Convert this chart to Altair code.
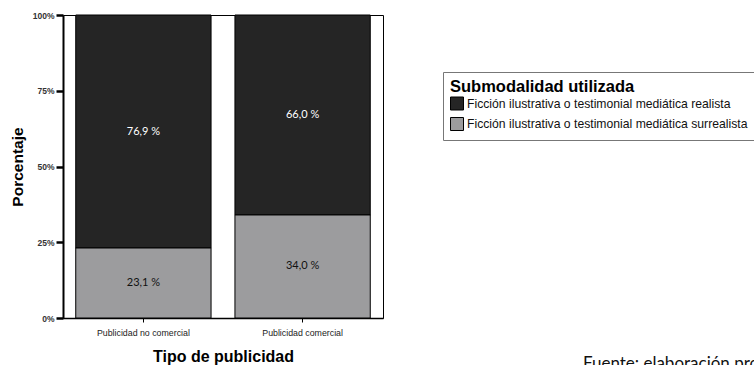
import altair as alt
import pandas as pd

tipos = ["Publicidad no comercial", "Publicidad no comercial", "Publicidad comercial", "Publicidad comercial"]
submodalidad = [
    "Ficción ilustrativa o testimonial mediática realista",
    "Ficción ilustrativa o testimonial mediática surrealista",
    "Ficción ilustrativa o testimonial mediática realista",
    "Ficción ilustrativa o testimonial mediática surrealista",
]
valores = [76.9, 23.1, 66.0, 34.0]
orden = [2, 1, 2, 1]
etiquetas = ["76,9 %", "23,1 %", "66,0 %", "34,0 %"]
x_order = ["Publicidad no comercial", "Publicidad comercial"]
leg_order = [
    "Ficción ilustrativa o testimonial mediática realista",
    "Ficción ilustrativa o testimonial mediática surrealista",
]
colores = ["#252525", "#9c9c9e"]
texto_colores = ["#ffffff", "#111111"]

df = pd.DataFrame({
    "tipo": tipos, "sub": submodalidad, "valor": valores,
    "orden": orden, "etiqueta": etiquetas,
})

base = alt.Chart(df).transform_stack(
    stack="valor", groupby=["tipo"], as_=["y0", "y1"],
    sort=[alt.SortField("orden", order="ascending")],
).transform_calculate(mid="(datum.y0 + datum.y1) / 2")

xenc = alt.X(
    "tipo:N", sort=x_order, title="Tipo de publicidad",
    scale=alt.Scale(paddingInner=0.15, paddingOuter=0.08),
    axis=alt.Axis(
        labelAngle=0, labelFont="Liberation Sans", labelFontSize=8.8,
        labelColor="#222", labelPadding=6, tickSize=4, tickColor="#000",
        domainColor="#000", domainWidth=1.5,
        titleFont="Liberation Sans", titleFontSize=16, titleFontWeight="bold",
        titleColor="#000", titlePadding=12,
    ),
)

bars = base.mark_bar(stroke="#000", strokeWidth=1).encode(
    x=xenc,
    y=alt.Y(
        "y0:Q", title="Porcentaje",
        scale=alt.Scale(domain=[0, 100], nice=False),
        axis=alt.Axis(
            values=[0, 25, 50, 75, 100], labelExpr="datum.value + '%'",
            labelFont="Liberation Sans", labelFontSize=8.5, labelFontWeight="bold",
            labelColor="#333", tickSize=7, tickWidth=2.5, tickColor="#000",
            domainColor="#000", domainWidth=2, grid=False, labelPadding=2,
            titleFont="Liberation Sans", titleFontSize=15.5, titleFontWeight="bold",
            titleColor="#000", titlePadding=7,
        ),
    ),
    y2="y1:Q",
    color=alt.Color(
        "sub:N", scale=alt.Scale(domain=leg_order, range=colores),
        legend=alt.Legend(
            title="Submodalidad utilizada", orient="none", legendX=380, legendY=57,
            titleFont="Liberation Sans", titleFontSize=16.5, titleFontWeight="bold",
            titleColor="#000", titlePadding=1, titleLimit=500,
            labelFont="Liberation Sans", labelFontSize=12.2, labelColor="#111",
            symbolType="square", symbolSize=169, symbolStrokeColor="#000",
            symbolStrokeWidth=1, symbolOpacity=1, rowPadding=2.5, labelOffset=3,
            strokeColor="#777", padding=7, cornerRadius=0, labelLimit=500,
        ),
    ),
)

text = base.mark_text(font="Lato", fontSize=11).encode(
    x=alt.X("tipo:N", sort=x_order),
    y=alt.Y("mid:Q"),
    text="etiqueta:N",
    color=alt.Color("sub:N", scale=alt.Scale(domain=leg_order, range=texto_colores), legend=None),
)

fuente = alt.Chart(pd.DataFrame({"t": ["Fuente: elaboración propia"]})).mark_text(
    font="Lato", fontSize=17, align="left", baseline="alphabetic", color="#111"
).encode(x=alt.value(520), y=alt.value(354), text="t:N")

chart = alt.layer(bars, text, fuente).resolve_scale(color="independent").properties(
    width=320, height=303,
    autosize=alt.AutoSizeParams(type="none"),
    padding={"left": 63, "top": 15, "right": 371, "bottom": 47},
).configure_view(stroke="#000", strokeWidth=1)

chart.save("out.html", embed_options={"renderer": "svg", "actions": False})
